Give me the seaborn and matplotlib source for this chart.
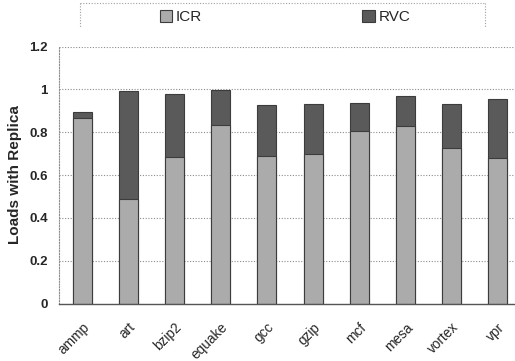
import matplotlib
matplotlib.use("Agg")
import matplotlib.pyplot as plt
from matplotlib.patches import Patch
from matplotlib.lines import Line2D
from matplotlib.ticker import FixedLocator
from matplotlib.transforms import ScaledTranslation
import seaborn as sns
import pandas as pd

# Fraction of loads that have a replica, split by mechanism
benchmarks = ["ammp", "art", "bzip2", "equake", "gcc", "gzip", "mcf", "mesa", "vortex", "vpr"]
icr = [0.865, 0.49, 0.685, 0.835, 0.69, 0.70, 0.805, 0.83, 0.725, 0.68]
rvc = [0.030, 0.50, 0.295, 0.160, 0.235, 0.23, 0.130, 0.14, 0.205, 0.275]
y_ticks = [0, 0.2, 0.4, 0.6, 0.8, 1.0, 1.2]
y_tick_labels = ["0", "0.2", "0.4", "0.6", "0.8", "1", "1.2"]

sns.set_style("white")
plt.rcParams["font.family"] = ["Liberation Sans", "DejaVu Sans"]

icr_color = "#ababab"
rvc_color = "#5a5a5a"
edge_color = "#3c3c3c"

df = pd.DataFrame({
    "benchmark": benchmarks,
    "ICR": icr,
    "RVC": rvc,
})
df["total"] = df["ICR"] + df["RVC"]

W, H = 515, 361
fig = plt.figure(figsize=(W / 100, H / 100), dpi=100)
ax = fig.add_axes([59 / W, 1 - 303.5 / H, (521 - 59) / W, (303.5 - 46.5) / H])

# Stacked bars: full height in RVC colour, ICR portion drawn over it
sns.barplot(data=df, x="benchmark", y="total", color=rvc_color, width=0.41,
            edgecolor=edge_color, linewidth=0.8, saturation=1, ax=ax)
sns.barplot(data=df, x="benchmark", y="ICR", color=icr_color, width=0.41,
            edgecolor=edge_color, linewidth=0.8, saturation=1, ax=ax)

ax.set_xlim(-0.5, len(benchmarks) - 0.5)
ax.set_ylim(0, 1.2)
ax.set_yticks(y_ticks)
ax.set_yticklabels(y_tick_labels, fontsize=9.5, fontweight="bold")
ax.set_xticks(range(len(benchmarks)))
ax.set_xticklabels(benchmarks, rotation=45, ha="right", rotation_mode="anchor",
                   fontsize=9.8)
# nudge the slanted names a little to the left of each bar
shift = ScaledTranslation(-5 / 100, 0, fig.dpi_scale_trans)
for lbl in ax.get_xticklabels():
    lbl.set_transform(lbl.get_transform() + shift)
ax.set_xlabel("")
ax.set_ylabel("Loads with Replica", fontsize=11, fontweight="bold", labelpad=5)

ax.tick_params(axis="y", length=0, pad=8)
ax.tick_params(axis="x", which="major", length=0, pad=12)
ax.xaxis.set_minor_locator(FixedLocator([k + 0.5 for k in range(len(benchmarks))]))
ax.tick_params(axis="x", which="minor", length=3, color="#999999", width=0.8)

# Dotted horizontal gridlines
ax.yaxis.grid(True, linestyle=(0, (1, 1.5)), color="#8c8c8c", linewidth=0.8)
ax.set_axisbelow(True)
for side in ["top", "right"]:
    ax.spines[side].set_visible(False)
ax.spines["left"].set_linestyle((0, (1, 1.5)))
ax.spines["left"].set_color("#8c8c8c")
ax.spines["left"].set_linewidth(0.8)
ax.spines["bottom"].set_color("#555555")
ax.spines["bottom"].set_linewidth(1.0)

# Legend above the plot in an open dotted box
handles = [Patch(facecolor=icr_color, edgecolor=edge_color, linewidth=0.8, label="ICR"),
           Patch(facecolor=rvc_color, edgecolor=edge_color, linewidth=0.8, label="RVC")]
fig.legend(handles=handles, loc="center", bbox_to_anchor=(285 / W, 1 - 17 / H),
           ncol=2, frameon=False, fontsize=11, handlelength=0.8, handleheight=0.8,
           handletextpad=0.25, columnspacing=10.5)
box_style = dict(color="#a0a0a0", linewidth=0.8, linestyle=(0, (1, 1.5)))
x0, x1 = 80 / W, 485 / W
ytop, ybot = 1 - 2.5 / H, 1 - 28 / H
fig.add_artist(Line2D([x0, x1], [ytop, ytop], transform=fig.transFigure, **box_style))
fig.add_artist(Line2D([x0, x0], [ytop, ybot], transform=fig.transFigure, **box_style))
fig.add_artist(Line2D([x1, x1], [ytop, ybot], transform=fig.transFigure, **box_style))

fig.savefig("out.png", dpi=100)
